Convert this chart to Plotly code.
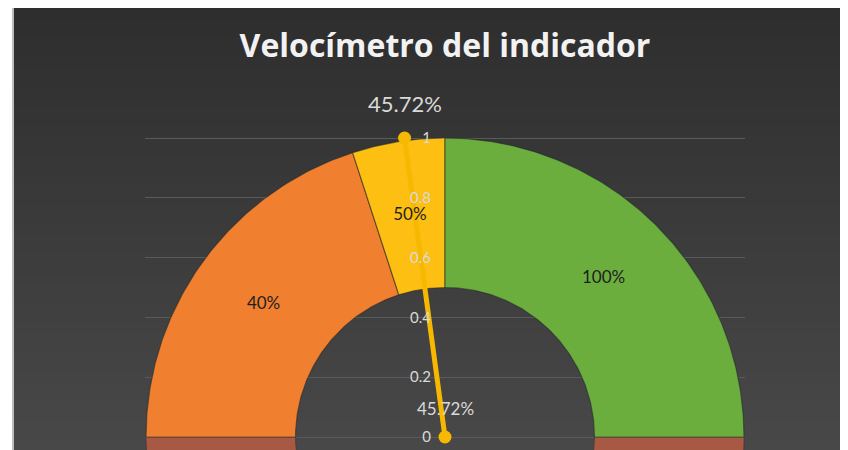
import numpy as np
import plotly.graph_objects as go

# ---- data ----
title_text = "Velocímetro del indicador"
segment_labels = ["40%", "50%", "100%"]
segment_bounds = [0.40, 0.50, 1.00]          # cumulative share of the half dial
needle_value = 0.4572
needle_label = "45.72%"
y_ticks = [0, 0.2, 0.4, 0.6, 0.8, 1]
y_tick_text = ["0", "0.2", "0.4", "0.6", "0.8", "1"]

# ---- style ----
FONT = "Lato, Open Sans, sans-serif"
seg_colors = ["#F0802F", "#FDBF12", "#6CAE3E"]
hidden_color = "#A85944"
needle_color = "#F7B900"
R_OUT, R_IN = 1.0, 0.5
OFF = 8                      # page body margin
W, H = 848 - OFF, 450 - OFF
L = 145 - OFF
T = 134 - OFF
RM = W - (745 - OFF)
B = 0
PW, PH = W - L - RM, H - T - B
UNIT = 299.0                 # pixels per data unit
CENTER_PX = 437 - OFF
TOP_PX = 138 - OFF

def px2x(px):
    return (px - L) / PW

def py2y(py):
    return (H - B - py) / PH

def ring(a0, a1, n=120):
    t = np.linspace(a0, a1, n)
    xo, yo = R_OUT * np.cos(t), R_OUT * np.sin(t)
    xi, yi = R_IN * np.cos(t[::-1]), R_IN * np.sin(t[::-1])
    x = np.concatenate([xo, xi, xo[:1]])
    y = np.concatenate([yo, yi, yo[:1]])
    return x, y

fig = go.Figure()

# hidden lower half of the dial (only a sliver is visible)
hx, hy = ring(np.pi, 2 * np.pi)
fig.add_trace(go.Scatter(x=hx, y=hy, fill="toself", fillcolor=hidden_color,
                         mode="lines", line=dict(color="rgba(40,40,40,0.4)", width=1),
                         hoverinfo="skip", showlegend=False))

label_x, label_y = [], []
prev = 0.0
for b, c in zip(segment_bounds, seg_colors):
    a0 = np.pi * (1 - prev)
    a1 = np.pi * (1 - b)
    sx, sy = ring(a0, a1)
    fig.add_trace(go.Scatter(x=sx, y=sy, fill="toself", fillcolor=c, mode="lines",
                             line=dict(color="rgba(35,40,45,0.55)", width=1.2),
                             hoverinfo="skip", showlegend=False))
    am = (a0 + a1) / 2
    rm = (R_OUT + R_IN) / 2
    label_x.append(rm * np.cos(am))
    label_y.append(rm * np.sin(am))
    prev = b

# needle
ang = np.pi * (1 - needle_value)
tip_x = np.cos(ang) / np.sin(ang)
fig.add_trace(go.Scatter(x=[0, tip_x], y=[0, 1], mode="lines+markers",
                         line=dict(color=needle_color, width=5),
                         marker=dict(color=needle_color, size=13),
                         cliponaxis=False, hoverinfo="skip", showlegend=False))

# slice labels (drawn over the needle)
fig.add_trace(go.Scatter(x=label_x, y=label_y, mode="text",
                         text=segment_labels, textposition="middle center",
                         textfont=dict(family=FONT, size=17, color="#1E1E1E"),
                         hoverinfo="skip", showlegend=False))

fig.add_annotation(x=tip_x, y=1, text=needle_label, showarrow=False, yshift=35,
                   font=dict(family=FONT, size=22, color="#D9D9D9"))
fig.add_annotation(x=0, y=0, text=needle_label, showarrow=False, yshift=29,
                   font=dict(family=FONT, size=17, color="#D9D9D9"))

# background gradient (stacked bands, no seams) + frame line
shapes = []
n_bands = 45
top_px, bot_px = 0, H
for i in range(n_bands):
    p0 = top_px + (bot_px - top_px) * i / n_bands
    f = i / (n_bands - 1)
    v = int(round(46 + (72 - 46) * f))
    shapes.append(dict(type="rect", xref="paper", yref="paper", layer="below",
                       x0=px2x(14 - OFF), x1=px2x(W), y0=py2y(H), y1=py2y(p0),
                       fillcolor=f"rgb({v},{v},{v})", line=dict(width=0)))
shapes.append(dict(type="rect", xref="paper", yref="paper", layer="below",
                   x0=px2x(12 - OFF), x1=px2x(14 - OFF), y0=py2y(H), y1=py2y(0),
                   fillcolor="#BDBDBD", line=dict(width=0)))

fig.update_layout(
    width=W, height=H,
    margin=dict(l=L, r=RM, t=T, b=B),
    paper_bgcolor="white",
    plot_bgcolor="rgba(0,0,0,0)",
    shapes=shapes,
    title=dict(text=f"<b>{title_text}</b>", x=0.5, xref="paper", xanchor="center",
               y=1 - (46 - OFF) / H, yref="container", yanchor="middle",
               font=dict(family="Open Sans, Lato, sans-serif", size=32, color="#F2F2F2")),
    xaxis=dict(range=[-(PW / 2) / UNIT, (PW / 2) / UNIT], showgrid=False, zeroline=False,
               showticklabels=False, showline=False, fixedrange=True),
    yaxis=dict(range=[-(H - CENTER_PX) / UNIT, 1.0 + (TOP_PX - T) / UNIT],
               tickvals=y_ticks, ticktext=y_tick_text,
               showgrid=True, gridcolor="#5A5A5A", gridwidth=1, zeroline=False,
               showline=False, ticks="", anchor="free", position=0.5,
               ticklabelstandoff=14,
               tickfont=dict(family=FONT, size=15, color="#D9D9D9"),
               fixedrange=True),
    showlegend=False,
)

fig.write_html("out.html")
